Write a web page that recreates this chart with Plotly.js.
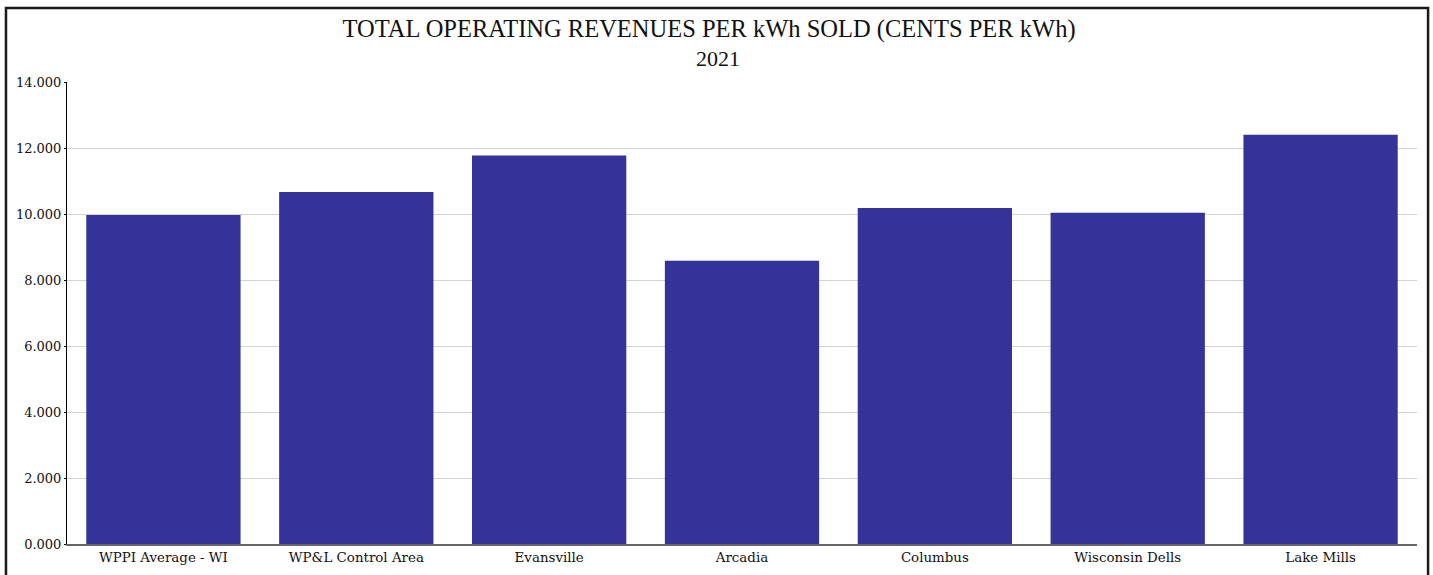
<!DOCTYPE html>
<html>
<head>
<meta charset="utf-8">
<script src="https://cdn.plot.ly/plotly-3.0.1.min.js"></script>
<style>
  html, body { margin: 0; padding: 0; background: #fff; }
  #chart { width: 1433px; height: 575px; }
</style>
</head>
<body>
<div id="chart"></div>
<script>
const categories = ["WPPI Average - WI", "WP&L Control Area", "Evansville", "Arcadia", "Columbus", "Wisconsin Dells", "Lake Mills"];
const values = [9.97, 10.67, 11.77, 8.58, 10.18, 10.04, 12.40];
const titleText = "TOTAL OPERATING REVENUES PER kWh SOLD (CENTS PER kWh)";
const subtitleText = "2021";
const yTickValues = [0, 2, 4, 6, 8, 10, 12, 14];

const trace = {
  type: "bar",
  x: categories,
  y: values,
  marker: { color: "#333399" },
  hoverinfo: "x+y"
};

const layout = {
  width: 1433,
  height: 575,
  margin: { l: 67, r: 16, t: 82, b: 31 },
  paper_bgcolor: "#ffffff",
  plot_bgcolor: "#ffffff",
  bargap: 0.2,
  showlegend: false,
  font: { family: "DejaVu Serif", size: 13, color: "#222" },
  title: {
    text: titleText,
    font: { family: "Liberation Serif", size: 24.5, color: "#111" },
    x: 0.4948, xref: "container", xanchor: "center",
    y: 0.950, yref: "container", yanchor: "middle"
  },
  annotations: [{
    text: subtitleText,
    xref: "paper", yref: "paper",
    x: 0.4822, y: 1.050, xanchor: "center", yanchor: "middle",
    showarrow: false,
    font: { family: "Liberation Serif", size: 22, color: "#111" }
  }],
  xaxis: {
    type: "category",
    showgrid: false,
    zeroline: false,
    showline: true,
    linecolor: "#666",
    linewidth: 2,
    ticks: "",
    tickfont: { family: "DejaVu Serif", size: 13.4, color: "#111" }
  },
  yaxis: {
    range: [0, 14],
    tickvals: yTickValues,
    tickformat: ".3f",
    showgrid: true,
    gridcolor: "#d3d3d3",
    gridwidth: 1,
    zeroline: false,
    showline: true,
    linecolor: "#000",
    linewidth: 1,
    ticks: "outside",
    ticklen: 2,
    tickcolor: "#000",
    tickfont: { family: "DejaVu Serif", size: 13, color: "#111" }
  },
  shapes: [{
    type: "rect",
    xref: "paper", yref: "paper",
    x0: -0.0452, x1: 1.0082,
    y0: -0.3, y1: 1.1602,
    line: { color: "#1a1a1a", width: 2.5 },
    fillcolor: "rgba(0,0,0,0)",
    layer: "above"
  }]
};

Plotly.newPlot("chart", [trace], layout, { displayModeBar: false, staticPlot: true });
</script>
</body>
</html>
